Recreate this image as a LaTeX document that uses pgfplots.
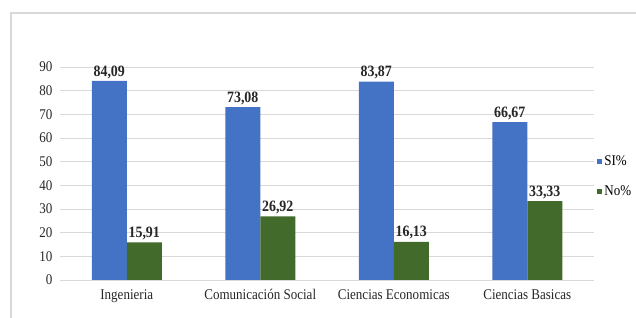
\documentclass[border=0pt]{standalone}
\usepackage{fontspec}
\setmainfont{Liberation Serif}[FakeStretch=0.88]
\usepackage{pgfplots}
\pgfplotsset{compat=1.18}
\definecolor{siblue}{HTML}{4472C4}
\definecolor{nogreen}{HTML}{426A2B}
\definecolor{gridgray}{HTML}{D9D9D9}
\definecolor{txtgray}{HTML}{262626}
\begin{document}
\begin{tikzpicture}
\useasboundingbox (0pt,0pt) rectangle (636pt,318pt);
\draw[gridgray, line width=1.3pt] (11pt,0pt) -- (11pt,305pt) -- (636pt,305pt);
\begin{axis}[
  at={(60pt,38pt)}, anchor=south west,
  scale only axis, width=534pt, height=213pt,
  xmin=-0.5, xmax=3.5, ymin=0, ymax=90,
  ytick={0,10,...,90},
  xtick={0,1,2,3},
  xticklabels={Ingenieria, Comunicación Social, Ciencias Economicas, Ciencias Basicas},
  ybar=0pt, bar width=35pt,
  axis line style={draw=none},
  major tick length=0pt,
  ymajorgrids, grid style={gridgray, line width=0.8pt},
  /pgf/number format/assume math mode=true,
  tick label style={font=\fontsize{14.8}{14.8}\selectfont, text=txtgray},
  xticklabel style={yshift=-6pt},
  yticklabel style={xshift=-4pt},
  nodes near coords,
  every node near coord/.append style={font=\bfseries\fontsize{15.8}{15.8}\selectfont, text=txtgray, yshift=-1pt,
    /pgf/number format/.cd, fixed, fixed zerofill, precision=2, use comma, assume math mode=true},
  legend style={at={(1.006,0.486)}, anchor=west, draw=none, fill=none,
    font=\fontsize{14.8}{14.8}\selectfont, row sep=15pt, inner sep=0pt,
    /tikz/every even column/.append style={column sep=0pt}},
  legend cell align=left,
  legend image code/.code={\fill[#1,draw=none] (0pt,-2.5pt) rectangle (5pt,2.5pt);},
  clip=false,
]
\addplot[fill=siblue, draw=none] coordinates {(0,84.09) (1,73.08) (2,83.87) (3,66.67)};
\addplot[fill=nogreen, draw=none] coordinates {(0,15.91) (1,26.92) (2,16.13) (3,33.33)};
\legend{SI\%, No\%}
\end{axis}
\end{tikzpicture}
\end{document}
